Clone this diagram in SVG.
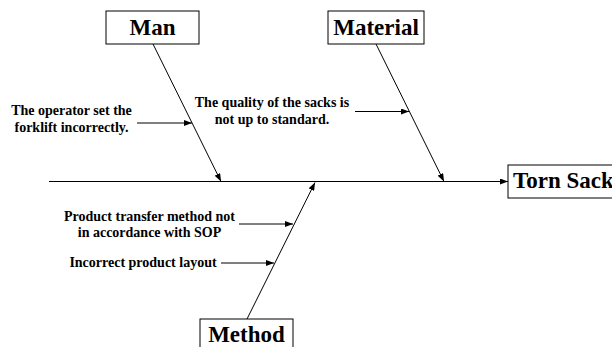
<svg xmlns="http://www.w3.org/2000/svg" width="612" height="347" viewBox="0 0 612 347">
<style>
.box{fill:#fff;stroke:#000;stroke-width:1}
.title{font-family:"Liberation Serif",serif;font-weight:bold;font-size:23px;fill:#000}
.cause{font-family:"Liberation Serif",serif;font-weight:bold;font-size:14px;fill:#000}
.ln{stroke:#000;stroke-width:1;fill:none}
</style>
<defs>
<marker id="ah" viewBox="0 0 8 6" refX="8" refY="3" markerWidth="8" markerHeight="6" markerUnits="userSpaceOnUse" orient="auto">
<path d="M0,0 L8,3 L0,6 Z" fill="#000"/>
</marker>
</defs>
<g id="connectors">
<line class="ln" x1="49" y1="181.5" x2="508" y2="181.5" marker-end="url(#ah)" stroke="#333"/>
<line class="ln" x1="153" y1="44" x2="221" y2="181.5" marker-end="url(#ah)"/>
<line class="ln" x1="376" y1="44" x2="444" y2="181.5" marker-end="url(#ah)"/>
<line class="ln" x1="247" y1="319" x2="315" y2="182.5" marker-end="url(#ah)"/>
<line class="ln" x1="137" y1="123" x2="192" y2="123" marker-end="url(#ah)"/>
<line class="ln" x1="355" y1="111.5" x2="409" y2="111.5" marker-end="url(#ah)"/>
<line class="ln" x1="239" y1="224" x2="293" y2="224" marker-end="url(#ah)"/>
<line class="ln" x1="221" y1="263" x2="274" y2="263" marker-end="url(#ah)"/>
</g>
<g id="man">
<rect class="box" x="106" y="11" width="93" height="33"/>
<text class="title" x="152.5" y="35" text-anchor="middle">Man</text>
</g>
<g id="material">
<rect class="box" x="328" y="11" width="96" height="33"/>
<text class="title" x="376" y="35" text-anchor="middle">Material</text>
</g>
<g id="method">
<rect class="box" x="200" y="319" width="93" height="40"/>
<text class="title" x="246.5" y="342" text-anchor="middle">Method</text>
</g>
<g id="torn-sack">
<rect class="box" x="508" y="165" width="120" height="33"/>
<text class="title" x="513" y="188">Torn Sack</text>
</g>
<g id="cause-operator">
<text class="cause" x="71.5" y="114.5" text-anchor="middle">The operator set the</text>
<text class="cause" x="71.5" y="131.5" text-anchor="middle">forklift incorrectly.</text>
</g>
<g id="cause-quality">
<text class="cause" x="272" y="106.5" text-anchor="middle">The quality of the sacks is</text>
<text class="cause" x="272" y="123.5" text-anchor="middle">not up to standard.</text>
</g>
<g id="cause-transfer">
<text class="cause" x="149.5" y="221" text-anchor="middle">Product transfer method not</text>
<text class="cause" x="149.5" y="237" text-anchor="middle">in accordance with SOP</text>
</g>
<g id="cause-layout">
<text class="cause" x="143" y="267" text-anchor="middle">Incorrect product layout</text>
</g>
</svg>
